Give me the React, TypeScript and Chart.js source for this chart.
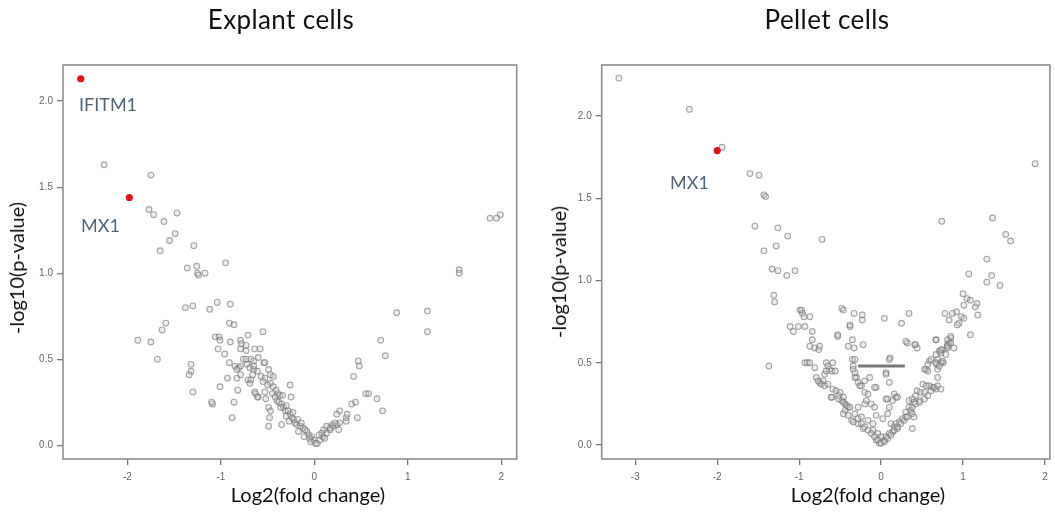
import React, { useEffect, useRef } from "react";
import { Chart, registerables } from "chart.js";
Chart.register(...registerables);

const explantXTicks = [-2, -1, 0, 1, 2];
const explantYTicks = [0, 0.5, 1, 1.5, 2];
const pelletXTicks = [-3, -2, -1, 0, 1, 2];
const pelletYTicks = [0, 0.5, 1, 1.5, 2];

const explantGenes = ["IFITM1", "MX1"];
const explantHighlight: number[][] = [[-2.5, 2.13], [-1.98, 1.44]];
const pelletGenes = ["MX1"];
const pelletHighlight: number[][] = [[-2.0, 1.79]];
const pelletBar: number[][] = [[-0.28, 0.48], [0.29, 0.48]];

const explantPoints: number[][] = [
  [-2.25, 1.63], [-1.75, 1.57], [-1.77, 1.37], [-1.72, 1.34], [-1.61, 1.3], [-1.47, 1.35],
  [-1.49, 1.23], [-1.55, 1.19], [-1.65, 1.13], [-1.29, 1.16], [-1.36, 1.03], [-1.26, 1.04],
  [-1.25, 1.0], [-1.24, 0.99], [-1.17, 1.0], [-0.95, 1.06], [1.88, 1.32], [1.95, 1.32],
  [1.99, 1.34], [1.55, 1.02], [1.55, 1.0], [-1.38, 0.8], [-1.3, 0.81], [-1.12, 0.79],
  [-1.04, 0.83], [-0.9, 0.82], [-1.59, 0.71], [-1.63, 0.67], [-1.89, 0.61], [-1.75, 0.6],
  [-1.68, 0.5], [-1.32, 0.47], [-1.32, 0.43], [-1.34, 0.41], [-1.3, 0.31], [-1.09, 0.24],
  [-0.88, 0.16], [-1.01, 0.34], [-0.86, 0.25], [-1.1, 0.25], [-1.06, 0.63], [-1.02, 0.63],
  [-1.01, 0.61], [-1.03, 0.56], [-0.96, 0.53], [-0.91, 0.71], [-0.86, 0.7], [-0.9, 0.6],
  [-0.91, 0.48], [-0.85, 0.46], [-0.81, 0.45], [-0.83, 0.44], [-0.79, 0.46], [-0.79, 0.61],
  [-0.78, 0.59], [-0.83, 0.39], [-0.93, 0.39], [-0.73, 0.58], [-0.73, 0.55], [-0.71, 0.64],
  [-0.55, 0.66], [-0.79, 0.56], [-0.64, 0.56], [-0.58, 0.56], [-0.68, 0.5], [-0.6, 0.51],
  [-0.54, 0.48], [-0.76, 0.5], [-0.73, 0.5], [-0.72, 0.47], [-0.69, 0.45], [-0.65, 0.44],
  [-0.61, 0.43], [-0.66, 0.41], [-0.49, 0.44], [-0.47, 0.41], [-0.44, 0.4], [-0.53, 0.39],
  [-0.79, 0.41], [-0.71, 0.38], [-0.69, 0.36], [-0.82, 0.32], [-0.64, 0.31], [-0.6, 0.28],
  [-0.53, 0.31], [-0.52, 0.27], [-0.47, 0.36], [-0.44, 0.34], [-0.41, 0.32], [-0.39, 0.3],
  [-0.37, 0.29], [-0.34, 0.29], [-0.26, 0.35], [-0.25, 0.28], [-0.4, 0.26], [-0.35, 0.24],
  [-0.33, 0.22], [-0.3, 0.23], [-0.31, 0.2], [-0.49, 0.22], [-0.47, 0.2], [-0.48, 0.16],
  [-0.49, 0.11], [-0.35, 0.12], [-0.26, 0.18], [-0.24, 0.16], [-0.22, 0.15], [-0.21, 0.13],
  [-0.19, 0.12], [-0.15, 0.11], [-0.12, 0.1], [-0.08, 0.08], [-0.06, 0.06], [-0.03, 0.05],
  [-0.01, 0.03], [0.01, 0.01], [0.03, 0.01], [0.06, 0.03], [0.09, 0.05], [0.13, 0.07],
  [0.17, 0.09], [0.2, 0.11], [0.24, 0.12], [0.27, 0.13], [0.1, 0.09], [0.08, 0.07],
  [0.13, 0.11], [0.17, 0.1], [0.19, 0.12], [0.22, 0.13], [0.26, 0.09], [0.27, 0.2],
  [0.24, 0.18], [0.34, 0.16], [0.35, 0.18], [0.34, 0.14], [0.4, 0.24], [0.44, 0.25],
  [0.46, 0.16], [0.42, 0.4], [0.47, 0.49], [0.48, 0.46], [0.55, 0.3], [0.58, 0.3],
  [0.67, 0.27], [0.73, 0.2], [0.71, 0.61], [0.76, 0.52], [0.88, 0.77], [1.21, 0.78],
  [1.21, 0.66], [-0.63, 0.3], [-0.68, 0.38], [-0.61, 0.28], [-0.65, 0.49], [-0.65, 0.46],
  [-0.53, 0.48], [-0.57, 0.4], [-0.55, 0.37], [-0.5, 0.35], [-0.45, 0.3], [-0.42, 0.28],
  [-0.38, 0.25], [-0.36, 0.22], [-0.28, 0.2], [-0.23, 0.19], [-0.18, 0.15], [-0.14, 0.13],
  [-0.1, 0.09], [-0.05, 0.04], [-0.3, 0.17], [-0.27, 0.14], [-0.17, 0.08], [-0.11, 0.05],
  [-0.04, 0.02], [0.05, 0.06], [0.11, 0.04],
];

const pelletPoints: number[][] = [
  [-3.2, 2.23], [-2.34, 2.04], [-1.94, 1.81], [-1.6, 1.65], [-1.49, 1.64], [-1.43, 1.52],
  [-1.41, 1.51], [-1.54, 1.33], [-1.26, 1.32], [-1.14, 1.27], [-1.28, 1.21], [-1.43, 1.18],
  [-1.33, 1.07], [-1.26, 1.06], [-1.15, 1.03], [-1.05, 1.06], [-0.72, 1.25], [-1.31, 0.91],
  [-1.3, 0.87], [-1.37, 0.48], [-0.99, 0.82], [-0.96, 0.8], [-0.94, 0.78], [-0.87, 0.78],
  [-1.11, 0.72], [-1.07, 0.69], [-1.01, 0.72], [-0.93, 0.72], [-0.84, 0.69], [-0.84, 0.64],
  [-0.87, 0.6], [-0.81, 0.59], [-0.76, 0.58], [-0.75, 0.6], [-0.93, 0.5], [-0.9, 0.5],
  [-0.87, 0.5], [-0.81, 0.47], [-0.67, 0.5], [-0.59, 0.5], [-0.65, 0.48], [-0.63, 0.46],
  [-0.6, 0.45], [-0.56, 0.45], [-0.79, 0.41], [-0.75, 0.38], [-0.71, 0.39], [-0.65, 0.37],
  [-0.69, 0.43], [-0.59, 0.34], [-0.55, 0.33], [-0.5, 0.32], [-0.52, 0.3], [-0.48, 0.27],
  [-0.46, 0.29], [-0.44, 0.25], [-0.4, 0.23], [-0.6, 0.29], [-0.48, 0.83], [-0.46, 0.82],
  [-0.38, 0.72], [-0.53, 0.66], [-0.35, 0.64], [-0.4, 0.6], [-0.33, 0.59], [-0.33, 0.8],
  [-0.23, 0.79], [-0.23, 0.76], [-0.22, 0.61], [-0.35, 0.52], [-0.34, 0.48], [-0.32, 0.44],
  [-0.3, 0.41], [-0.28, 0.38], [-0.24, 0.36], [-0.2, 0.39], [-0.14, 0.41], [-0.06, 0.35],
  [-0.2, 0.32], [-0.16, 0.31], [-0.18, 0.27], [-0.12, 0.25], [-0.08, 0.23], [-0.06, 0.18],
  [-0.1, 0.13], [-0.1, 0.09], [-0.04, 0.07], [0.0, 0.05], [-0.06, 0.03], [-0.02, 0.01],
  [-0.2, 0.25], [-0.28, 0.23], [-0.32, 0.19], [-0.24, 0.17], [-0.16, 0.15], [-0.44, 0.21],
  [-0.4, 0.18], [-0.36, 0.15], [-0.28, 0.13], [-0.22, 0.1], [0.74, 1.36], [1.36, 1.38],
  [1.52, 1.28], [1.58, 1.24], [1.29, 1.13], [1.07, 1.04], [1.35, 1.03], [1.29, 0.99],
  [1.45, 0.97], [1.0, 0.92], [1.05, 0.89], [1.09, 0.88], [1.17, 0.86], [1.15, 0.84],
  [1.01, 0.85], [1.18, 0.79], [0.78, 0.8], [0.87, 0.8], [0.92, 0.81], [0.83, 0.76],
  [0.98, 0.78], [1.01, 0.77], [0.95, 0.74], [0.93, 0.73], [1.09, 0.67], [0.34, 0.8],
  [0.04, 0.77], [0.25, 0.74], [0.67, 0.64], [0.85, 0.65], [0.83, 0.62], [0.81, 0.61],
  [0.32, 0.62], [0.41, 0.61], [0.44, 0.59], [0.71, 0.57], [0.75, 0.58], [0.73, 0.56],
  [0.81, 0.59], [0.89, 0.59], [0.69, 0.52], [0.79, 0.55], [0.76, 0.5], [0.59, 0.51],
  [0.57, 0.49], [0.55, 0.46], [0.57, 0.45], [0.68, 0.49], [0.73, 0.5], [0.69, 0.46],
  [0.11, 0.53], [0.06, 0.44], [0.1, 0.38], [0.69, 0.41], [0.51, 0.37], [0.59, 0.36],
  [0.63, 0.35], [0.67, 0.34], [0.61, 0.33], [0.44, 0.33], [0.48, 0.32], [0.53, 0.32],
  [0.42, 0.3], [0.38, 0.28], [0.34, 0.27], [0.4, 0.26], [0.47, 0.27], [0.06, 0.28],
  [0.16, 0.31], [0.18, 0.29], [0.14, 0.27], [0.1, 0.23], [0.08, 0.19], [0.02, 0.16],
  [0.12, 0.13], [0.34, 0.23], [0.36, 0.21], [0.3, 0.2], [0.38, 0.19], [0.4, 0.17],
  [0.3, 0.17], [0.26, 0.16], [0.22, 0.14], [0.18, 0.13], [0.16, 0.11], [0.2, 0.1],
  [0.14, 0.08], [0.1, 0.07], [0.06, 0.05], [0.04, 0.03], [0.38, 0.1], [1.88, 1.71],
  [-0.97, 0.82], [-0.38, 0.73], [-0.53, 0.67], [-0.67, 0.45], [-0.73, 0.37], [-0.69, 0.36],
  [-0.77, 0.39], [-0.32, 0.52], [0.1, 0.52], [-0.34, 0.46], [-0.32, 0.41], [-0.26, 0.36],
  [-0.08, 0.35], [0.06, 0.43], [0.08, 0.28], [0.2, 0.29], [-0.61, 0.29], [-0.52, 0.28],
  [-0.46, 0.26], [-0.42, 0.24], [-0.38, 0.23], [-0.46, 0.19], [-0.28, 0.16], [-0.34, 0.14],
  [-0.24, 0.13], [-0.2, 0.11], [-0.16, 0.09], [-0.12, 0.07], [-0.08, 0.05], [-0.04, 0.03],
  [0.0, 0.01], [0.04, 0.02], [0.08, 0.04], [0.12, 0.06], [0.16, 0.09], [0.2, 0.11],
  [0.24, 0.13], [0.28, 0.15], [0.32, 0.17], [0.38, 0.23], [0.42, 0.25], [0.47, 0.26],
  [0.53, 0.28], [0.57, 0.3], [0.65, 0.35], [0.69, 0.36], [0.73, 0.34], [0.55, 0.36],
  [0.53, 0.46], [0.61, 0.52], [0.67, 0.5], [0.71, 0.48], [0.75, 0.51], [0.67, 0.55],
  [0.73, 0.58], [0.81, 0.6], [0.85, 0.62], [0.85, 0.66], [0.81, 0.64], [0.3, 0.63],
  [0.42, 0.61], [0.67, 0.64],
];

const boxPlugin = {
  id: "box",
  afterDraw(chart: any) {
    const { ctx, chartArea } = chart;
    ctx.save();
    ctx.strokeStyle = "#8e8e8e";
    ctx.lineWidth = 1.6;
    ctx.strokeRect(chartArea.left, chartArea.top, chartArea.right - chartArea.left, chartArea.bottom - chartArea.top);
    ctx.restore();
  },
};

function makeConfig(
  points: number[][],
  highlight: number[][],
  bar: number[][] | null,
  xTicks: number[],
  yTicks: number[],
  xRange: number[],
  yRange: number[],
  yAxisWidth: number,
  padRight: number
): any {
  const datasets: any[] = [
    {
      type: "scatter",
      data: highlight.map(([x, y]) => ({ x, y })),
      pointRadius: 3.6,
      borderWidth: 0,
      backgroundColor: "#d8161b",
      borderColor: "#d8161b",
    },
  ];
  if (bar) {
    datasets.push({
      type: "line",
      data: bar.map(([x, y]) => ({ x, y })),
      showLine: true,
      pointRadius: 0,
      borderWidth: 3,
      borderColor: "rgba(95,95,95,0.85)",
    });
  }
  datasets.push({
    type: "scatter",
    data: points.map(([x, y]) => ({ x, y })),
    pointRadius: 2.9,
    borderWidth: 1.1,
    borderColor: "rgba(115,115,115,0.6)",
    backgroundColor: "rgba(195,195,195,0.3)",
  });
  const tickFont = { family: "'Liberation Sans', Arial, sans-serif", size: 10 };
  return {
    type: "scatter",
    data: { datasets },
    options: {
      responsive: false,
      animation: false,
      events: [],
      layout: { padding: { top: 65, right: padRight, left: 0, bottom: 0 } },
      plugins: { legend: { display: false }, tooltip: { enabled: false } },
      scales: {
        x: {
          type: "linear",
          min: xRange[0],
          max: xRange[1],
          afterBuildTicks: (s: any) => {
            s.ticks = xTicks.map((v) => ({ value: v }));
          },
          afterFit: (s: any) => {
            s.height = 59;
          },
          border: { display: false },
          grid: { drawOnChartArea: false, drawTicks: true, tickLength: 6, color: "#7a7a7a", lineWidth: 1.3 },
          ticks: { color: "#666", font: tickFont, padding: 6, callback: (v: any) => String(v) },
        },
        y: {
          type: "linear",
          min: yRange[0],
          max: yRange[1],
          afterBuildTicks: (s: any) => {
            s.ticks = yTicks.map((v) => ({ value: v }));
          },
          afterFit: (s: any) => {
            s.width = yAxisWidth;
          },
          border: { display: false },
          grid: { drawOnChartArea: false, drawTicks: true, tickLength: 6, color: "#7a7a7a", lineWidth: 1.3 },
          ticks: { color: "#666", font: tickFont, padding: 4, callback: (v: any) => Number(v).toFixed(1) },
        },
      },
    },
    plugins: [boxPlugin],
  };
}

function ChartCanvas({ config, width, height }: { config: any; width: number; height: number }) {
  const ref = useRef<HTMLCanvasElement | null>(null);
  useEffect(() => {
    if (!ref.current) return;
    const chart = new Chart(ref.current, config);
    return () => chart.destroy();
  }, []);
  return <canvas ref={ref} width={width} height={height} style={{ width, height, display: "block" }} />;
}

const textFont = "Lato, 'Open Sans', sans-serif";

function Label({ text, left, top, size, color, center, rotate, spacing }: any) {
  const style: any = {
    position: "absolute",
    left,
    top,
    fontFamily: textFont,
    fontSize: size,
    color,
    whiteSpace: "nowrap",
    lineHeight: 1,
    letterSpacing: spacing || 0,
    transform: (center ? "translate(-50%, -50%)" : "translate(0, -50%)") + (rotate ? " rotate(-90deg)" : ""),
  };
  return <div style={style}>{text}</div>;
}

export default function App() {
  const left = makeConfig(explantPoints, explantHighlight, null, explantXTicks, explantYTicks, [-2.69, 2.165], [-0.08, 2.21], 63, 13.3);
  const right = makeConfig(pelletPoints, pelletHighlight, pelletBar, pelletXTicks, pelletYTicks, [-3.41, 2.06], [-0.085, 2.31], 71.7, 2);
  const geneColor = "#52667a";
  return (
    <div style={{ position: "absolute", left: 0, top: 0, width: 1055, height: 518, background: "#fff", overflow: "hidden" }}>
      <div style={{ position: "absolute", left: 0, top: 0 }}>
        <ChartCanvas config={left} width={530} height={518} />
      </div>
      <div style={{ position: "absolute", left: 530, top: 0 }}>
        <ChartCanvas config={right} width={525} height={518} />
      </div>
      <Label text="Explant cells" left={281} top={19} size={26} color="#111" center spacing="0.4px" />
      <Label text="Pellet cells" left={827} top={19} size={26} color="#111" center spacing="0.4px" />
      <Label text="Log2(fold change)" left={308} top={494} size={20} color="#111" center />
      <Label text="Log2(fold change)" left={868} top={494} size={20} color="#111" center />
      <Label text="-log10(p-value)" left={16} top={268} size={20} color="#111" center rotate />
      <Label text="-log10(p-value)" left={558} top={272} size={20} color="#111" center rotate />
      <Label text={explantGenes[0]} left={79} top={104} size={18} color={geneColor} />
      <Label text={explantGenes[1]} left={81} top={225} size={18} color={geneColor} />
      <Label text={pelletGenes[0]} left={670} top={182} size={18} color={geneColor} />
    </div>
  );
}
